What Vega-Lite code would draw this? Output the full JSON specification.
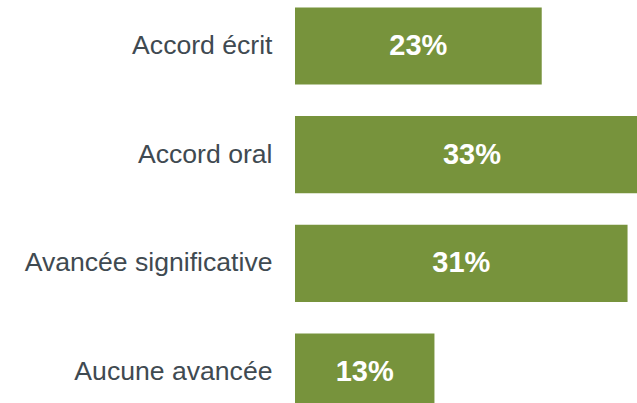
{
  "$schema": "https://vega.github.io/schema/vega-lite/v6.json",
  "autosize": {"type": "none"},
  "padding": {"left": 295, "top": 0, "right": 0, "bottom": 0},
  "width": 354,
  "height": 418,
  "background": "white",
  "config": {"view": {"stroke": null}, "font": "Liberation Sans"},
  "data": {
    "values": [
      {"categorie": "Accord écrit", "valeur": 23, "label": "23%"},
      {"categorie": "Accord oral", "valeur": 33, "label": "33%"},
      {"categorie": "Avancée significative", "valeur": 31, "label": "31%"},
      {"categorie": "Aucune avancée", "valeur": 13, "label": "13%"}
    ]
  },
  "encoding": {
    "y": {
      "field": "categorie",
      "type": "nominal",
      "sort": null,
      "scale": {"paddingInner": 0.29, "paddingOuter": 0.069},
      "axis": {
        "title": null,
        "ticks": false,
        "domain": false,
        "labelFontSize": 26.6,
        "labelColor": "#3f4a51",
        "labelPadding": 23,
        "labelFont": "Liberation Sans",
        "labelLimit": 400
      }
    }
  },
  "layer": [
    {
      "mark": {"type": "bar", "color": "#77933c"},
      "encoding": {
        "x": {
          "field": "valeur",
          "type": "quantitative",
          "scale": {"domain": [0, 33], "nice": false},
          "axis": null
        }
      }
    },
    {
      "mark": {"type": "text", "color": "white", "fontWeight": "bold", "fontSize": 29, "font": "Liberation Sans", "align": "center", "baseline": "middle"},
      "encoding": {
        "x": {
          "field": "valeur",
          "type": "quantitative",
          "scale": {"domain": [0, 66], "nice": false},
          "axis": null
        },
        "text": {"field": "label"}
      }
    }
  ],
  "resolve": {"scale": {"x": "independent"}}
}
